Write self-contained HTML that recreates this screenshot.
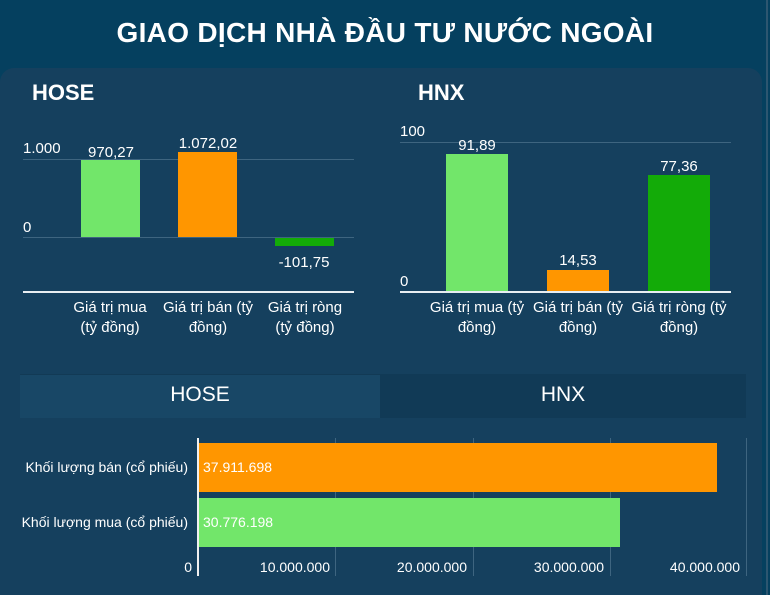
<!DOCTYPE html>
<html><head><meta charset="utf-8"><style>
*{margin:0;padding:0;box-sizing:border-box}
html,body{width:770px;height:595px;overflow:hidden}
body{background:#05405f;font-family:"Liberation Sans",sans-serif;color:#fff;position:relative}
.a{position:absolute;white-space:nowrap}
.panel{position:absolute;left:0;top:68px;width:762px;height:527px;background:#15405e;border-radius:14px 14px 0 0}
.t{font-size:15px;text-align:center}
.c{font-size:15px;text-align:center;line-height:20px}
.n{font-family:"Liberation Sans Narrow","Liberation Sans",sans-serif;font-size:14px}
</style></head><body>
<div class="a" style="left:0;width:770px;top:17px;text-align:center;font-size:28px;font-weight:bold;letter-spacing:0.3px">GIAO DỊCH NHÀ ĐẦU TƯ NƯỚC NGOÀI</div>
<div class="a" style="left:766px;top:0;width:2px;height:595px;background:#2d5670"></div>
<div class="panel"></div>
<!-- HOSE -->
<div class="a" style="left:32px;top:80px;font-size:22px;font-weight:bold">HOSE</div>
<div class="a" style="left:23px;top:159px;width:331px;height:1px;background:#3e6580"></div>
<div class="a" style="left:23px;top:237px;width:331px;height:1px;background:#3e6580"></div>
<div class="a" style="left:23px;top:291px;width:331px;height:2px;background:#e8eef2"></div>
<div class="a t" style="left:23px;top:140px">1.000</div>
<div class="a t" style="left:23px;top:219px">0</div>
<div class="a" style="left:81px;top:160px;width:59px;height:77px;background:#72e66a"></div>
<div class="a" style="left:178px;top:152px;width:59px;height:85px;background:#ff9600"></div>
<div class="a" style="left:275px;top:238px;width:59px;height:8px;background:#13ab08"></div>
<div class="a t" style="left:71px;width:80px;top:144px">970,27</div>
<div class="a t" style="left:163px;width:90px;top:135px">1.072,02</div>
<div class="a t" style="left:264px;width:80px;top:254px">-101,75</div>
<div class="a c" style="left:60px;width:100px;top:298px">Giá trị mua<br>(tỷ đồng)</div>
<div class="a c" style="left:158px;width:100px;top:298px">Giá trị bán (tỷ<br>đồng)</div>
<div class="a c" style="left:255px;width:100px;top:298px">Giá trị ròng<br>(tỷ đồng)</div>
<!-- HNX -->
<div class="a" style="left:418px;top:80px;font-size:22px;font-weight:bold">HNX</div>
<div class="a" style="left:400px;top:142px;width:331px;height:1px;background:#3e6580"></div>
<div class="a" style="left:400px;top:291px;width:331px;height:2px;background:#e8eef2"></div>
<div class="a t" style="left:400px;top:123px">100</div>
<div class="a t" style="left:400px;top:273px">0</div>
<div class="a" style="left:446px;top:154px;width:62px;height:137px;background:#72e66a"></div>
<div class="a" style="left:547px;top:270px;width:62px;height:21px;background:#ff9600"></div>
<div class="a" style="left:648px;top:175px;width:62px;height:116px;background:#13ab08"></div>
<div class="a t" style="left:437px;width:80px;top:137px">91,89</div>
<div class="a t" style="left:538px;width:80px;top:252px">14,53</div>
<div class="a t" style="left:639px;width:80px;top:158px">77,36</div>
<div class="a c" style="left:422px;width:110px;top:298px">Giá trị mua (tỷ<br>đồng)</div>
<div class="a c" style="left:523px;width:110px;top:298px">Giá trị bán (tỷ<br>đồng)</div>
<div class="a c" style="left:624px;width:110px;top:298px">Giá trị ròng (tỷ<br>đồng)</div>
<!-- tabs -->
<div class="a" style="left:20px;top:374px;width:360px;height:44px;background:#184766;border-top:1px solid #123a55"></div>
<div class="a" style="left:380px;top:374px;width:366px;height:44px;background:#113a56"></div>
<div class="a" style="left:20px;top:383px;width:360px;text-align:center;font-size:21px">HOSE</div>
<div class="a" style="left:380px;top:383px;width:366px;text-align:center;font-size:21px">HNX</div>
<!-- horizontal bars -->
<div class="a" style="left:335px;top:438px;width:1px;height:138px;background:#3e6580"></div>
<div class="a" style="left:473px;top:438px;width:1px;height:138px;background:#3e6580"></div>
<div class="a" style="left:610px;top:438px;width:1px;height:138px;background:#3e6580"></div>
<div class="a" style="left:746px;top:438px;width:1px;height:138px;background:#3e6580"></div>
<div class="a" style="left:198px;top:443px;width:519px;height:49px;background:#ff9600"></div>
<div class="a" style="left:198px;top:498px;width:422px;height:49px;background:#72e66a"></div>
<div class="a" style="left:197px;top:438px;width:2px;height:138px;background:#f0f0f0"></div>
<div class="a n" style="left:203px;top:459px">37.911.698</div>
<div class="a n" style="left:203px;top:514px">30.776.198</div>
<div class="a n" style="left:0;width:188px;text-align:right;top:459px">Khối lượng bán (cổ phiếu)</div>
<div class="a n" style="left:0;width:188px;text-align:right;top:514px">Khối lượng mua (cổ phiếu)</div>
<div class="a n" style="left:150px;width:42px;text-align:right;top:559px">0</div>
<div class="a n" style="left:230px;width:100px;text-align:right;top:559px">10.000.000</div>
<div class="a n" style="left:367px;width:100px;text-align:right;top:559px">20.000.000</div>
<div class="a n" style="left:504px;width:100px;text-align:right;top:559px">30.000.000</div>
<div class="a n" style="left:640px;width:100px;text-align:right;top:559px">40.000.000</div>
</body></html>
